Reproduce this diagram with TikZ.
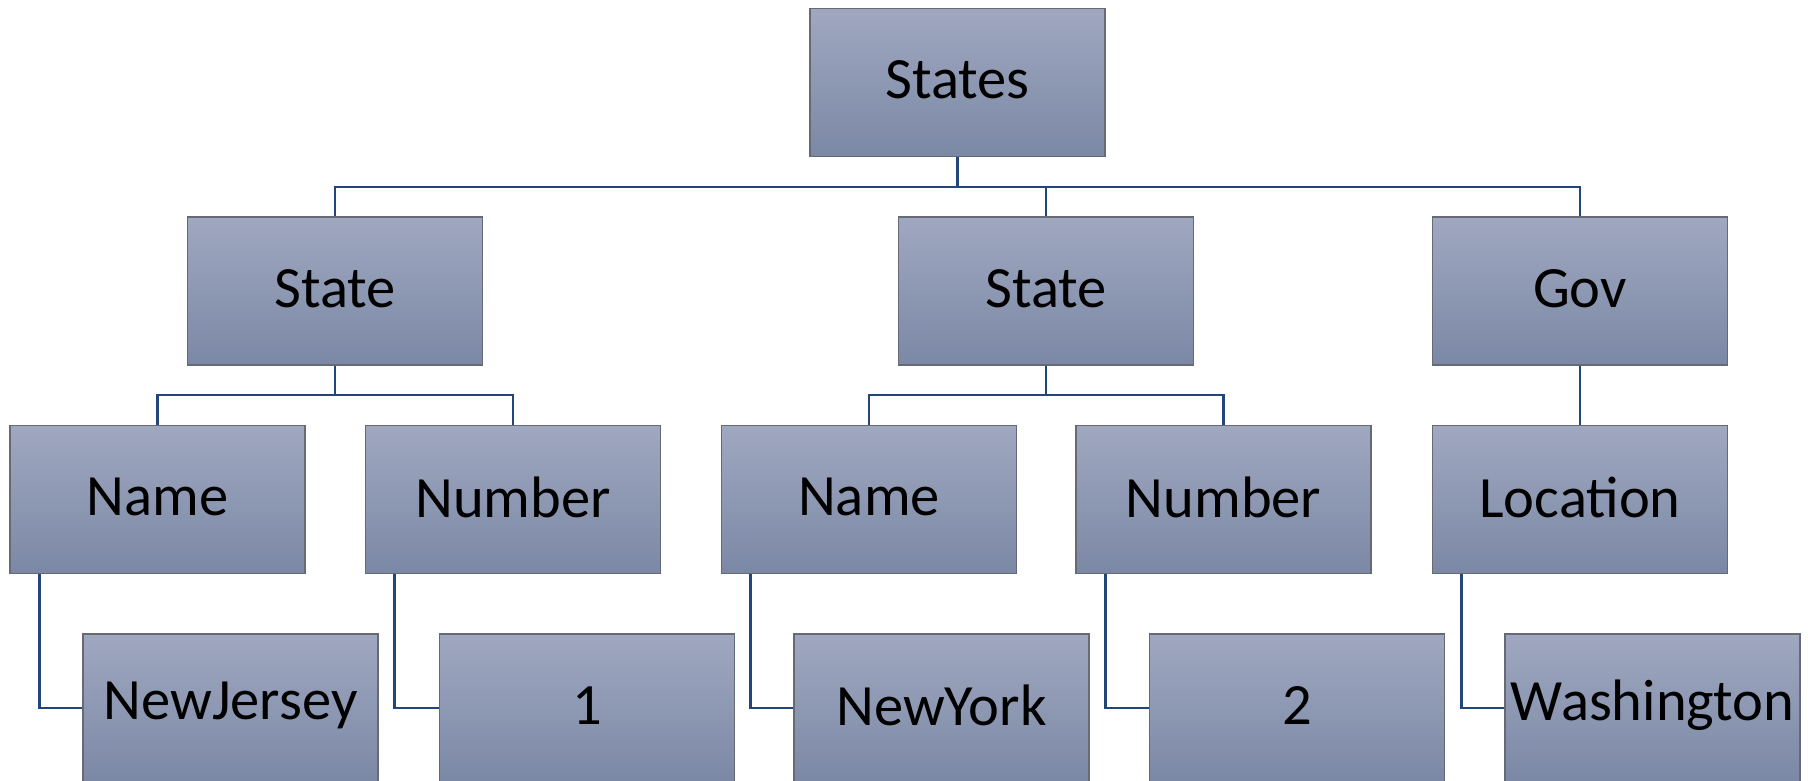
\documentclass[tikz,border=0pt]{standalone}
\usepackage{fontspec}
\setmainfont{Carlito}
\definecolor{boxtop}{HTML}{A0A8C0}
\definecolor{boxbot}{HTML}{7B88A5}
\definecolor{boxline}{HTML}{666A74}
\definecolor{conncol}{HTML}{22457A}
\begin{document}
\begin{tikzpicture}[x=1pt,y=-1pt,
  box/.style={draw=boxline, line width=1.3pt, top color=boxtop, bottom color=boxbot,
    minimum width=295pt, minimum height=148pt, inner sep=0pt,
    font=\fontsize{58.5}{60}\selectfont, text=black},
  lbl/.style={font=\fontsize{58.5}{60}\selectfont, text=black, inner sep=0pt},
  conn/.style={draw=conncol, line width=2.8pt}]
\useasboundingbox (0,0) rectangle (1808,781);
% level 0
\node[box] (S) at (957.5,82.5) {};
% level 1
\node[box] (st1) at (335,291) {};
\node[box] (st2) at (1046,291) {};
\node[box] (gov) at (1580,291) {};
% level 2
\node[box] (n1) at (157.5,499.5) {};
\node[box] (m1) at (513,499.5) {};
\node[box] (n2) at (869,499.5) {};
\node[box] (m2) at (1223.5,499.5) {};
\node[box] (loc) at (1580,499.5) {};
% level 3
\node[box] (nj) at (230.5,708) {};
\node[box] (one) at (587,708) {};
\node[box] (ny) at (941.5,708) {};
\node[box] (two) at (1297,708) {};
\node[box] (wa) at (1652.5,708) {};
% labels
\foreach \n/\t in {S/States, st1/State, st2/State, gov/Gov, n1/Name, m1/Number,
  n2/Name, m2/Number, loc/Location, nj/NewJersey, one/1, ny/NewYork, two/2, wa/Washington}
  \node[lbl, yshift=2.5pt] (\n-t) at (\n) {\t};
% connectors
\coordinate (b0) at (957.5,187);
\coordinate (b1) at (335,395);
\coordinate (b2) at (1046,395);
\draw[conn] (S.south) -- (b0);
\draw[conn] (st1.north) |- (b0) -| (gov.north);
\draw[conn] (b0) -| (st2.north);
\draw[conn] (st1.south) -- (b1);
\draw[conn] (n1.north) |- (b1) -| (m1.north);
\draw[conn] (st2.south) -- (b2);
\draw[conn] (n2.north) |- (b2) -| (m2.north);
\draw[conn] (gov.south) -- (loc.north);
\draw[conn] ([xshift=30pt]n1.south west) |- (nj.west);
\draw[conn] ([xshift=30pt]m1.south west) |- (one.west);
\draw[conn] ([xshift=30pt]n2.south west) |- (ny.west);
\draw[conn] ([xshift=30pt]m2.south west) |- (two.west);
\draw[conn] ([xshift=30pt]loc.south west) |- (wa.west);
\end{tikzpicture}
\end{document}
